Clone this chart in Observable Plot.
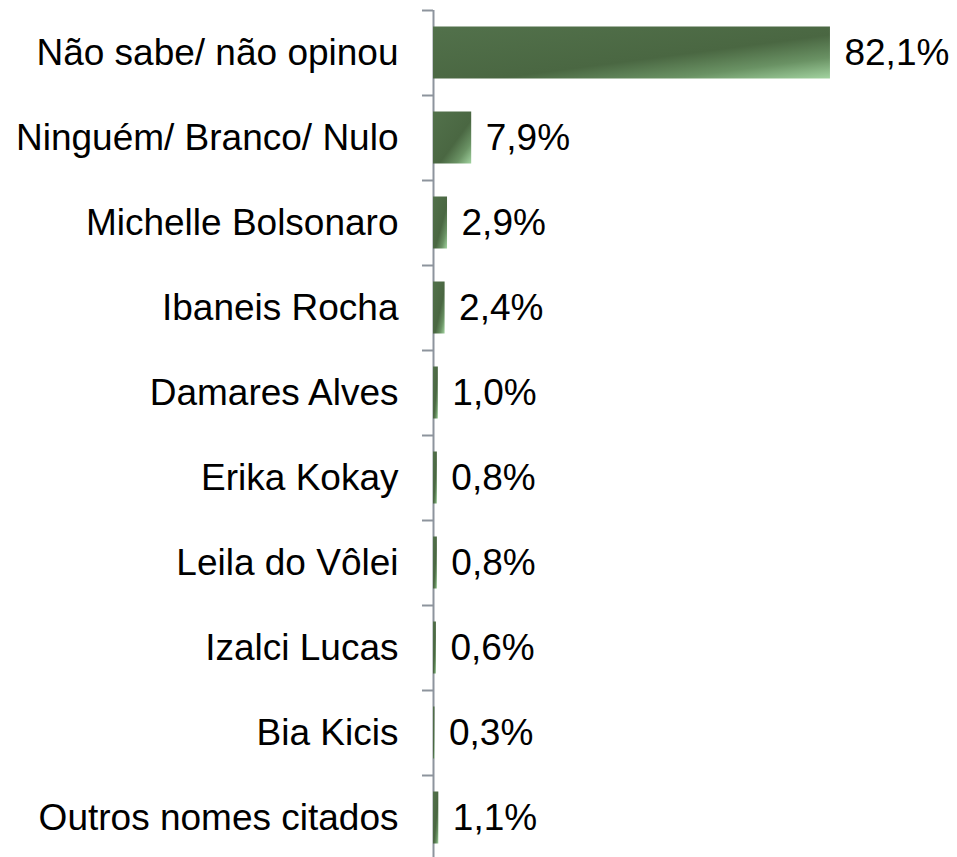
<!DOCTYPE html>
<html>
<head>
<meta charset="utf-8">
<script src="https://cdn.jsdelivr.net/npm/d3@7"></script>
<script src="https://cdn.jsdelivr.net/npm/@observablehq/plot@0.6"></script>
<style>
  html, body { margin: 0; padding: 0; background: #fff; overflow: hidden; }
</style>
</head>
<body>
<div id="chart"></div>
<script>
const categories = [
  "Não sabe/ não opinou",
  "Ninguém/ Branco/ Nulo",
  "Michelle Bolsonaro",
  "Ibaneis Rocha",
  "Damares Alves",
  "Erika Kokay",
  "Leila do Vôlei",
  "Izalci Lucas",
  "Bia Kicis",
  "Outros nomes citados"
];
const values = [82.1, 7.9, 2.9, 2.4, 1.0, 0.8, 0.8, 0.6, 0.3, 1.1];

const data = categories.map((c, i) => ({name: c, value: values[i]}));
const fmt = v => v.toFixed(1).replace(".", ",") + "%";
const axisColor = "#8d949d";

const chart = Plot.plot({
  width: 957,
  height: 857,
  marginTop: 10,
  marginBottom: 0,
  marginLeft: 433,
  marginRight: 0,
  style: {fontFamily: "'Liberation Sans', Arial, sans-serif", color: "#000", background: "#fff"},
  x: {domain: [0, 100], range: [433, 916.5], axis: null},
  y: {domain: categories, range: [10, 860], padding: 0, label: null},
  marks: [
    Plot.axisY({tickSize: 0, tickPadding: 35, fontSize: 37, label: null}),
    Plot.ruleX([0], {stroke: axisColor, strokeWidth: 2}),
    Plot.ruleY(categories, {y: d => d, x1: 0, x2: 0, insetLeft: -11, dy: -42.5, stroke: axisColor, strokeWidth: 2}),
    Plot.barX(data, {y: "name", x: "value", fill: "url(#barGrad)", insetTop: 16.5, insetBottom: 16.5}),
    Plot.text(data, {y: "name", x: "value", text: d => fmt(d.value), textAnchor: "start", dx: 14, fontSize: 37, fill: "#000"})
  ]
});

const ns = "http://www.w3.org/2000/svg";
const defs = document.createElementNS(ns, "defs");
const grad = document.createElementNS(ns, "linearGradient");
grad.setAttribute("id", "barGrad");
grad.setAttribute("x1", "0"); grad.setAttribute("y1", "0");
grad.setAttribute("x2", "1"); grad.setAttribute("y2", "1");
[["0", "#52714b"], ["0.58", "#4a6742"], ["0.8", "#6a9264"], ["1", "#a2d3a0"]].forEach(([o, c]) => {
  const s = document.createElementNS(ns, "stop");
  s.setAttribute("offset", o);
  s.setAttribute("stop-color", c);
  grad.appendChild(s);
});
defs.appendChild(grad);
chart.insertBefore(defs, chart.firstChild);

document.getElementById("chart").appendChild(chart);
</script>
</body>
</html>
